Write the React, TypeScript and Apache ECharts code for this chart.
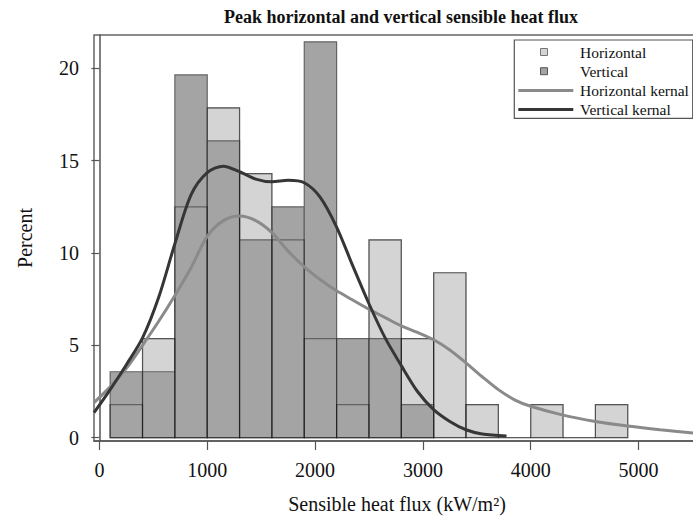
import React, { useEffect, useRef } from "react";
import * as echarts from "echarts";

const titleText = "Peak horizontal and vertical sensible heat flux";
const xAxisName = "Sensible heat flux (kW/m²)";
const yAxisName = "Percent";

const binWidth = 300;
const binStarts = [100, 400, 700, 1000, 1300, 1600, 1900, 2200, 2500, 2800, 3100, 3400, 3700, 4000, 4300, 4600];
const horizontalPct = [1.79, 5.36, 12.5, 17.86, 14.29, 10.71, 5.36, 1.79, 10.71, 5.36, 8.93, 1.79, 0, 1.79, 0, 1.79];
const verticalPct = [3.57, 3.57, 19.64, 16.07, 10.71, 12.5, 21.43, 5.36, 5.36, 1.79];

const hKernelX = [-50, 100, 250, 400, 550, 700, 850, 1000, 1150, 1300, 1450, 1600, 1750, 1900, 2050, 2200, 2350, 2500, 2650, 2800, 2950, 3100, 3250, 3400, 3550, 3700, 3850, 4000, 4300, 4600, 4900, 5200, 5570];
const hKernelY = [1.9, 2.75, 3.75, 5.0, 6.3, 7.7, 9.2, 10.9, 11.75, 12.0, 11.75, 11.1, 10.1, 9.25, 8.55, 7.95, 7.45, 6.95, 6.5, 6.05, 5.7, 5.3, 4.75, 4.05, 3.3, 2.6, 2.05, 1.7, 1.22, 0.88, 0.63, 0.43, 0.22];

const vKernelX = [-50, 100, 250, 400, 550, 700, 850, 1000, 1150, 1300, 1450, 1600, 1750, 1900, 2050, 2200, 2350, 2500, 2650, 2800, 2950, 3100, 3250, 3400, 3550, 3776];
const vKernelY = [1.35, 2.6, 3.95, 5.4, 7.6, 10.5, 13.15, 14.35, 14.7, 14.4, 14.0, 13.85, 13.93, 13.8, 13.0, 11.4, 9.3, 7.25, 5.4, 3.9, 2.5, 1.52, 0.88, 0.43, 0.2, 0.09];

const xTickValues = [0, 1000, 2000, 3000, 4000, 5000];
const yTickValues = [0, 5, 10, 15, 20];

const legendNames = ["Horizontal", "Vertical", "Horizontal kernal", "Vertical kernal"];

const FONT = "'Liberation Serif', 'Times New Roman', serif";

const LIGHT_FILL = "#d4d4d4";
const DARK_FILL = "#a4a4a4";
const EDGE = "rgba(0,0,0,0.4)";
const DARK_EDGE = "#646464";
const H_LINE = "#8a8a8a";
const V_LINE = "#363636";

function barRenderer(fill: string, stroke: string) {
  return (params: any, api: any) => {
    const x0 = api.value(0);
    const x1 = api.value(1);
    const v = api.value(2);
    const p0 = api.coord([x0, v]);
    const p1 = api.coord([x1, 0]);
    return {
      type: "rect",
      shape: { x: p0[0], y: p0[1], width: p1[0] - p0[0], height: p1[1] - p0[1] },
      style: { fill, stroke, lineWidth: 1.2 },
    };
  };
}

export default function App() {
  const ref = useRef<HTMLDivElement>(null);

  useEffect(() => {
    if (!ref.current) return;
    const chart = echarts.init(ref.current, null, { renderer: "svg" });

    const hBars = binStarts.map((s, i) => [s, s + binWidth, horizontalPct[i]]);
    const vBars = verticalPct.map((v, i) => [binStarts[i], binStarts[i] + binWidth, v]);
    const hKernel = hKernelX.map((x, i) => [x, hKernelY[i]]);
    const vKernel = vKernelX.map((x, i) => [x, vKernelY[i]]);

    const rowY = (i: number) => 52 + i * 19.2;
    const legendGraphics: any[] = [
      {
        type: "rect",
        shape: { x: 514.3, y: 40, width: 178.4, height: 78.3 },
        style: { fill: "#fff", stroke: "#555", lineWidth: 1.2 },
        z: 100,
      },
      {
        type: "rect",
        shape: { x: 540.5, y: rowY(0) - 3.5, width: 7, height: 7 },
        style: { fill: LIGHT_FILL, stroke: "#777", lineWidth: 1 },
        z: 101,
      },
      {
        type: "rect",
        shape: { x: 540.5, y: rowY(1) - 3.5, width: 7, height: 7 },
        style: { fill: DARK_FILL, stroke: "#555", lineWidth: 1 },
        z: 101,
      },
      {
        type: "line",
        shape: { x1: 518.3, y1: rowY(2), x2: 573.3, y2: rowY(2) },
        style: { stroke: H_LINE, lineWidth: 3 },
        z: 101,
      },
      {
        type: "line",
        shape: { x1: 518.3, y1: rowY(3), x2: 573.3, y2: rowY(3) },
        style: { stroke: V_LINE, lineWidth: 3 },
        z: 101,
      },
      ...legendNames.map((name, i) => ({
        type: "text",
        x: 580,
        y: rowY(i),
        style: {
          text: name,
          fontFamily: FONT,
          fontSize: 15.5,
          fill: "#111",
          align: "left",
          verticalAlign: "middle",
        },
        z: 101,
      })),
      {
        type: "text",
        x: 401,
        y: 16.7,
        style: {
          text: titleText,
          fontFamily: FONT,
          fontSize: 18,
          fontWeight: "bold",
          fill: "#111",
          align: "center",
          verticalAlign: "middle",
        },
      },
    ];

    chart.setOption({
      animation: false,
      backgroundColor: "#fff",
      grid: {
        left: 94,
        top: 35,
        right: 0,
        bottom: 80,
        show: true,
        borderColor: "#666",
        borderWidth: 1.5,
        backgroundColor: "transparent",
      },
      xAxis: {
        type: "value",
        min: -50,
        max: 5570,
        name: xAxisName,
        nameLocation: "middle",
        nameGap: 53,
        nameTextStyle: { fontFamily: FONT, fontSize: 20, color: "#111" },
        axisLine: { show: true, onZero: false, lineStyle: { color: "#555", width: 1.5 } },
        axisTick: { show: true, length: 9, customValues: xTickValues, lineStyle: { color: "#555", width: 1.2 } },
        axisLabel: {
          customValues: xTickValues,
          margin: 19,
          fontFamily: FONT,
          fontSize: 20,
          color: "#111",
          formatter: (v: number) => String(v),
        },
        splitLine: { show: false },
      },
      yAxis: {
        type: "value",
        min: -0.18,
        max: 21.8,
        name: yAxisName,
        nameLocation: "middle",
        nameGap: 59,
        nameRotate: 90,
        nameTextStyle: { fontFamily: FONT, fontSize: 20, color: "#111" },
        axisLine: { show: true, lineStyle: { color: "#555", width: 1.5 } },
        axisTick: { show: true, length: 8, customValues: yTickValues, lineStyle: { color: "#555", width: 1.2 } },
        axisLabel: {
          customValues: yTickValues,
          margin: 15,
          fontFamily: FONT,
          fontSize: 20,
          color: "#111",
          formatter: (v: number) => String(v),
        },
        splitLine: { show: false },
      },
      graphic: legendGraphics,
      series: [
        {
          name: legendNames[0],
          type: "custom",
          renderItem: barRenderer(LIGHT_FILL, EDGE),
          encode: { x: [0, 1], y: 2 },
          data: hBars,
          z: 2,
        },
        {
          name: legendNames[1],
          type: "custom",
          renderItem: barRenderer(DARK_FILL, DARK_EDGE),
          encode: { x: [0, 1], y: 2 },
          data: vBars,
          z: 3,
        },
        {
          name: legendNames[0] + " outline",
          type: "custom",
          renderItem: barRenderer("none", EDGE),
          encode: { x: [0, 1], y: 2 },
          data: hBars,
          z: 4,
        },
        {
          name: legendNames[2],
          type: "line",
          data: hKernel,
          smooth: 0.3,
          showSymbol: false,
          clip: true,
          lineStyle: { color: H_LINE, width: 3 },
          z: 5,
        },
        {
          name: legendNames[3],
          type: "line",
          data: vKernel,
          smooth: 0.3,
          showSymbol: false,
          clip: true,
          lineStyle: { color: V_LINE, width: 3 },
          z: 6,
        },
      ],
    });

    return () => chart.dispose();
  }, []);

  return (
    <div style={{ position: "fixed", left: 0, top: 0, width: 693, height: 521, overflow: "hidden", background: "#fff" }}>
      <div ref={ref} style={{ width: 700, height: 521 }} />
    </div>
  );
}
